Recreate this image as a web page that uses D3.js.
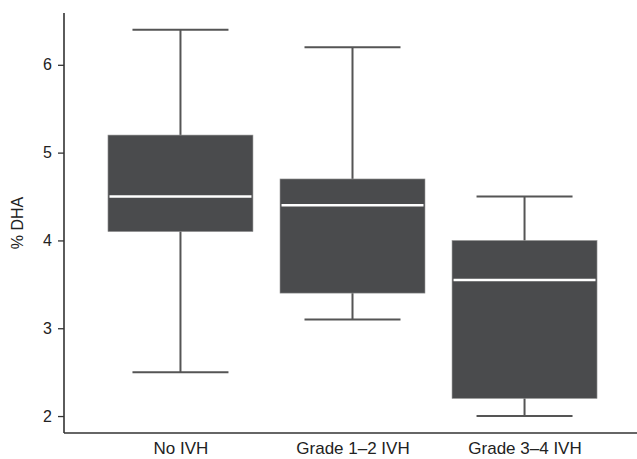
<!DOCTYPE html>
<html>
<head>
<meta charset="utf-8">
<script src="https://cdn.jsdelivr.net/npm/d3@7"></script>
<style>
  body { margin: 0; background: #fff; }
  text { font-family: "Liberation Sans", Arial, sans-serif; fill: #222; }
</style>
</head>
<body>
<div id="chart"></div>
<script>
// data
var groups = ["No IVH", "Grade 1\u20132 IVH", "Grade 3\u20134 IVH"];
var whiskerLow = [2.5, 3.1, 2.0];
var q1 = [4.1, 3.4, 2.2];
var median = [4.5, 4.4, 3.55];
var q3 = [5.2, 4.7, 4.0];
var whiskerHigh = [6.4, 6.2, 4.5];
var yTicks = [2, 3, 4, 5, 6];

var width = 637, height = 459;
var margin = {top: 13, right: 0, bottom: 26, left: 64};

var svg = d3.select("#chart").append("svg")
  .attr("width", width)
  .attr("height", height);

var y = d3.scaleLinear()
  .domain([1.807, 6.59])
  .range([height - margin.bottom, margin.top]);

var x = d3.scalePoint()
  .domain(groups)
  .range([margin.left, 641])
  .padding(0.677);

var boxW = 145, capW = 96;
var dark = "#4a4b4d";

var rows = groups.map(function(g, i) {
  return {name: g, lo: whiskerLow[i], q1: q1[i], med: median[i], q3: q3[i], hi: whiskerHigh[i]};
});

var g = svg.selectAll(".box")
  .data(rows)
  .enter().append("g")
  .attr("class", "box");

// whisker stems
g.append("line")
  .attr("x1", d => x(d.name)).attr("x2", d => x(d.name))
  .attr("y1", d => y(d.hi)).attr("y2", d => y(d.lo))
  .attr("stroke", "#555").attr("stroke-width", 2);

// caps
g.selectAll(".cap")
  .data(d => [{name: d.name, v: d.hi}, {name: d.name, v: d.lo}])
  .enter().append("line")
  .attr("x1", d => x(d.name) - capW / 2).attr("x2", d => x(d.name) + capW / 2)
  .attr("y1", d => y(d.v)).attr("y2", d => y(d.v))
  .attr("stroke", "#555").attr("stroke-width", 2);

// boxes
g.append("rect")
  .attr("x", d => x(d.name) - boxW / 2)
  .attr("width", boxW)
  .attr("y", d => y(d.q3))
  .attr("height", d => y(d.q1) - y(d.q3))
  .attr("fill", dark)
  .attr("stroke", "#9a9a9a")
  .attr("stroke-width", 0.6);

// median
g.append("line")
  .attr("x1", d => x(d.name) - boxW / 2 + 1.5).attr("x2", d => x(d.name) + boxW / 2 - 1.5)
  .attr("y1", d => y(d.med)).attr("y2", d => y(d.med))
  .attr("stroke", "#fff").attr("stroke-width", 2.5);

// y axis
var yAxis = svg.append("g")
  .attr("transform", "translate(" + margin.left + ",0)")
  .call(d3.axisLeft(y).tickValues(yTicks).tickFormat(d3.format("d")).tickSize(6).tickSizeOuter(0));
yAxis.select(".domain").remove();
yAxis.append("line")
  .attr("x1", 0).attr("x2", 0)
  .attr("y1", margin.top).attr("y2", height - margin.bottom)
  .attr("stroke", "#333").attr("stroke-width", 1.6);
yAxis.selectAll(".tick line").attr("stroke", "#333").attr("stroke-width", 1.3);
yAxis.selectAll(".tick text")
  .attr("x", -12)
  .style("font-size", "16px")
  .style("font-family", "Liberation Sans, Arial, sans-serif")
  .attr("fill", "#222");

// x axis
var xAxis = svg.append("g")
  .attr("transform", "translate(0," + (height - margin.bottom) + ")")
  .call(d3.axisBottom(x).tickSize(0));
xAxis.select(".domain").remove();
xAxis.append("line")
  .attr("x1", margin.left).attr("x2", width)
  .attr("y1", 0).attr("y2", 0)
  .attr("stroke", "#333").attr("stroke-width", 1.6);
xAxis.selectAll(".tick text")
  .attr("dy", "0")
  .attr("y", 21)
  .style("font-size", "17px")
  .style("font-family", "Liberation Sans, Arial, sans-serif")
  .attr("fill", "#222");

// y label
svg.append("text")
  .attr("transform", "translate(23," + ((margin.top + height - margin.bottom) / 2) + ") rotate(-90)")
  .attr("text-anchor", "middle")
  .style("font-size", "16px")
  .text("% DHA");
</script>
</body>
</html>
